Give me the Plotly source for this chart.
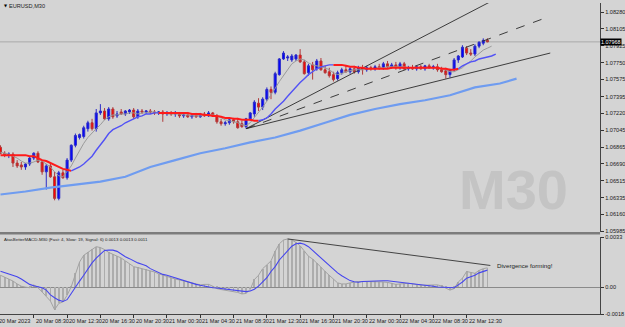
import plotly.graph_objects as go

# ----------------------------- data -----------------------------
opens = [1.06864, 1.06802, 1.06782, 1.06792, 1.06699, 1.06679, 1.06658, 1.06689, 1.06751, 1.06802,
         1.06710, 1.06607, 1.06669, 1.06555, 1.06329, 1.06597, 1.06545, 1.06730, 1.06885, 1.06967,
         1.06977, 1.07059, 1.07121, 1.07059, 1.07224, 1.07244, 1.07162, 1.07265, 1.07193, 1.07234,
         1.07213, 1.07234, 1.07254, 1.07183, 1.07244, 1.07234, 1.07244, 1.07234, 1.07224, 1.07234,
         1.07213, 1.07224, 1.07213, 1.07224, 1.07193, 1.07203, 1.07183, 1.07203, 1.07183, 1.07213,
         1.07193, 1.07224, 1.07193, 1.07131, 1.07111, 1.07121, 1.07152, 1.07131, 1.07111, 1.07080,
         1.07162, 1.07213, 1.07326, 1.07285, 1.07368, 1.07470, 1.07440, 1.07625, 1.07789, 1.07799,
         1.07779, 1.07789, 1.07830, 1.07758, 1.07645, 1.07727, 1.07686, 1.07768, 1.07676, 1.07655,
         1.07625, 1.07583, 1.07645, 1.07676, 1.07655, 1.07686, 1.07655, 1.07697, 1.07676, 1.07697,
         1.07686, 1.07707, 1.07697, 1.07738, 1.07707, 1.07727, 1.07697, 1.07738, 1.07686, 1.07697,
         1.07686, 1.07707, 1.07686, 1.07717, 1.07697, 1.07707, 1.07676, 1.07666, 1.07625, 1.07676,
         1.07779, 1.07810, 1.07902, 1.07851, 1.07840, 1.07923, 1.07954, 1.07984]
highs = [1.06885, 1.06823, 1.06812, 1.06812, 1.06730, 1.06710, 1.06699, 1.06761, 1.06812, 1.06823,
         1.06730, 1.06689, 1.06710, 1.06607, 1.06617, 1.06628, 1.06751, 1.06895, 1.07008, 1.07008,
         1.07090, 1.07142, 1.07162, 1.07265, 1.07316, 1.07275, 1.07285, 1.07285, 1.07244, 1.07265,
         1.07254, 1.07265, 1.07275, 1.07265, 1.07265, 1.07254, 1.07265, 1.07254, 1.07244, 1.07254,
         1.07244, 1.07244, 1.07244, 1.07234, 1.07224, 1.07234, 1.07213, 1.07224, 1.07224, 1.07234,
         1.07244, 1.07234, 1.07213, 1.07162, 1.07142, 1.07162, 1.07172, 1.07172, 1.07142, 1.07172,
         1.07234, 1.07357, 1.07378, 1.07388, 1.07491, 1.07501, 1.07655, 1.07799, 1.07871, 1.07830,
         1.07840, 1.07840, 1.07892, 1.07779, 1.07738, 1.07758, 1.07789, 1.07799, 1.07717, 1.07697,
         1.07655, 1.07666, 1.07697, 1.07717, 1.07707, 1.07717, 1.07717, 1.07727, 1.07717, 1.07717,
         1.07727, 1.07738, 1.07758, 1.07768, 1.07748, 1.07758, 1.07758, 1.07758, 1.07717, 1.07727,
         1.07717, 1.07727, 1.07727, 1.07738, 1.07727, 1.07738, 1.07707, 1.07697, 1.07686, 1.07799,
         1.07830, 1.07933, 1.07923, 1.07892, 1.07943, 1.07974, 1.08005, 1.08005]
lows = [1.06792, 1.06761, 1.06751, 1.06658, 1.06648, 1.06628, 1.06628, 1.06669, 1.06730, 1.06699,
        1.06576, 1.06422, 1.06545, 1.06309, 1.06309, 1.06535, 1.06525, 1.06710, 1.06864, 1.06946,
        1.06956, 1.07028, 1.07039, 1.07028, 1.07203, 1.07152, 1.07142, 1.07162, 1.07172, 1.07203,
        1.07193, 1.07213, 1.07162, 1.07162, 1.07213, 1.07213, 1.07213, 1.07203, 1.07203, 1.07131,
        1.07193, 1.07193, 1.07183, 1.07172, 1.07172, 1.07172, 1.07162, 1.07172, 1.07172, 1.07183,
        1.07183, 1.07183, 1.07111, 1.07090, 1.07090, 1.07100, 1.07111, 1.07059, 1.07069, 1.07059,
        1.07142, 1.07183, 1.07244, 1.07254, 1.07347, 1.07368, 1.07419, 1.07614, 1.07779, 1.07768,
        1.07758, 1.07768, 1.07748, 1.07625, 1.07614, 1.07573, 1.07666, 1.07666, 1.07635, 1.07594,
        1.07553, 1.07563, 1.07625, 1.07645, 1.07635, 1.07635, 1.07635, 1.07625, 1.07655, 1.07666,
        1.07666, 1.07676, 1.07676, 1.07697, 1.07686, 1.07676, 1.07676, 1.07676, 1.07666, 1.07676,
        1.07666, 1.07676, 1.07666, 1.07686, 1.07676, 1.07655, 1.07645, 1.07583, 1.07594, 1.07655,
        1.07748, 1.07799, 1.07830, 1.07820, 1.07820, 1.07902, 1.07933, 1.07964]
closes = [1.06802, 1.06782, 1.06792, 1.06699, 1.06669, 1.06658, 1.06689, 1.06751, 1.06802, 1.06710,
          1.06607, 1.06669, 1.06555, 1.06329, 1.06597, 1.06545, 1.06730, 1.06885, 1.06987, 1.06997,
          1.07069, 1.07121, 1.07059, 1.07224, 1.07244, 1.07162, 1.07265, 1.07183, 1.07213, 1.07213,
          1.07244, 1.07254, 1.07183, 1.07244, 1.07234, 1.07244, 1.07234, 1.07224, 1.07234, 1.07213,
          1.07224, 1.07213, 1.07224, 1.07193, 1.07203, 1.07183, 1.07203, 1.07183, 1.07213, 1.07193,
          1.07224, 1.07193, 1.07131, 1.07111, 1.07121, 1.07152, 1.07131, 1.07069, 1.07080, 1.07162,
          1.07224, 1.07337, 1.07285, 1.07368, 1.07470, 1.07440, 1.07635, 1.07789, 1.07851, 1.07810,
          1.07820, 1.07830, 1.07758, 1.07635, 1.07717, 1.07676, 1.07768, 1.07676, 1.07645, 1.07614,
          1.07573, 1.07645, 1.07676, 1.07655, 1.07686, 1.07655, 1.07697, 1.07676, 1.07697, 1.07686,
          1.07707, 1.07697, 1.07738, 1.07707, 1.07727, 1.07697, 1.07738, 1.07686, 1.07697, 1.07686,
          1.07707, 1.07686, 1.07717, 1.07697, 1.07707, 1.07676, 1.07655, 1.07625, 1.07676, 1.07779,
          1.07820, 1.07912, 1.07851, 1.07840, 1.07923, 1.07964, 1.07984, 1.07968]

# fast MA (thin grey), drawn with a 1-bar shift
ma_fast = [1.06812, 1.06802, 1.06792, 1.06771, 1.06751, 1.06720, 1.06699, 1.06699, 1.06710, 1.06730,
           1.06720, 1.06689, 1.06658, 1.06607, 1.06566, 1.06555, 1.06607, 1.06669, 1.06751, 1.06833,
           1.06905, 1.06967, 1.07018, 1.07059, 1.07100, 1.07152, 1.07183, 1.07203, 1.07203, 1.07213,
           1.07213, 1.07224, 1.07224, 1.07213, 1.07224, 1.07224, 1.07234, 1.07234, 1.07224, 1.07224,
           1.07213, 1.07213, 1.07213, 1.07213, 1.07203, 1.07203, 1.07193, 1.07193, 1.07193, 1.07203,
           1.07203, 1.07203, 1.07193, 1.07172, 1.07152, 1.07142, 1.07131, 1.07121, 1.07100, 1.07090,
           1.07121, 1.07172, 1.07234, 1.07285, 1.07347, 1.07409, 1.07481, 1.07553, 1.07614, 1.07686,
           1.07738, 1.07768, 1.07789, 1.07779, 1.07748, 1.07727, 1.07717, 1.07707, 1.07697, 1.07676,
           1.07645, 1.07625, 1.07635, 1.07655, 1.07666, 1.07676, 1.07676, 1.07676, 1.07686, 1.07686,
           1.07686, 1.07697, 1.07697, 1.07707, 1.07707, 1.07707, 1.07707, 1.07707, 1.07697, 1.07697,
           1.07697, 1.07697, 1.07697, 1.07697, 1.07697, 1.07697, 1.07686, 1.07676, 1.07655, 1.07655,
           1.07676, 1.07697, 1.07738, 1.07768, 1.07810, 1.07851, 1.07882, 1.07902, 1.07923]

# mid MA (red when falling, blue when rising), drawn with a 2-bar shift
ma_mid = [1.06782, 1.06782, 1.06782, 1.06782, 1.06782, 1.06782, 1.06782, 1.06771, 1.06771, 1.06751,
          1.06730, 1.06720, 1.06699, 1.06679, 1.06658, 1.06638, 1.06628, 1.06617, 1.06638, 1.06658,
          1.06689, 1.06730, 1.06771, 1.06833, 1.06885, 1.06946, 1.07008, 1.07049, 1.07069, 1.07090,
          1.07121, 1.07142, 1.07162, 1.07183, 1.07193, 1.07213, 1.07213, 1.07224, 1.07224, 1.07224,
          1.07224, 1.07224, 1.07224, 1.07224, 1.07224, 1.07224, 1.07213, 1.07213, 1.07213, 1.07203,
          1.07203, 1.07193, 1.07193, 1.07183, 1.07172, 1.07172, 1.07162, 1.07162, 1.07152, 1.07152,
          1.07152, 1.07142, 1.07142, 1.07152, 1.07172, 1.07213, 1.07265, 1.07306, 1.07347, 1.07399,
          1.07450, 1.07491, 1.07542, 1.07583, 1.07625, 1.07655, 1.07686, 1.07707, 1.07717, 1.07727,
          1.07727, 1.07727, 1.07727, 1.07717, 1.07707, 1.07707, 1.07697, 1.07697, 1.07686, 1.07686,
          1.07686, 1.07686, 1.07686, 1.07686, 1.07697, 1.07697, 1.07697, 1.07697, 1.07697, 1.07697,
          1.07697, 1.07697, 1.07697, 1.07697, 1.07697, 1.07697, 1.07686, 1.07686, 1.07676, 1.07676,
          1.07686, 1.07717, 1.07738, 1.07758, 1.07768, 1.07789, 1.07799, 1.07810, 1.07820, 1.07840]
mid_seg_start = [0, 17, 38, 62, 80, 110]
mid_seg_end = [17, 38, 62, 80, 110, 119]
mid_seg_dir = ["down", "up", "down", "up", "down", "up"]

# slow MA (light blue), shifted forward
ma_slow_x = [0, 6, 12, 18, 24, 30, 36, 42, 48, 54, 60, 66, 72, 78, 84, 90, 96, 102, 108, 114, 120, 124]
ma_slow = [1.06370, 1.06401, 1.06442, 1.06473, 1.06504, 1.06555, 1.06658, 1.06730, 1.06802, 1.06854,
           1.06915, 1.06967, 1.07039, 1.07121, 1.07203, 1.07265, 1.07316, 1.07357, 1.07409, 1.07491,
           1.07532, 1.07583]

macd_main = [0.00078, 0.00066, 0.00053, 0.00040, 0.00021, 0.00006, 0.0, -0.00004, 0.00015, -0.00004,
             -0.00032, -0.00060, -0.00092, -0.00149, -0.00108, -0.00098, -0.00054, 0.00003, 0.00091, 0.00166,
             0.00210, 0.00229, 0.00248, 0.00267, 0.00261, 0.00248, 0.00229, 0.00217, 0.00204, 0.00192,
             0.00173, 0.00154, 0.00135, 0.00129, 0.00122, 0.00116, 0.00106, 0.00100, 0.00088, 0.00078,
             0.00072, 0.00062, 0.00053, 0.00047, 0.00040, 0.00034, 0.00028, 0.00021, 0.00015, 0.00018,
             0.00018, 0.00006, -0.00010, -0.00016, -0.00020, -0.00023, -0.00029, -0.00035, -0.00045, -0.00042,
             -0.00016, 0.00050, 0.00078, 0.00122, 0.00147, 0.00173, 0.00236, 0.00286, 0.00311, 0.00318,
             0.00311, 0.00295, 0.00273, 0.00236, 0.00204, 0.00185, 0.00160, 0.00132, 0.00103, 0.00078,
             0.00053, 0.00028, 0.00021, 0.00021, 0.00028, 0.00034, 0.00037, 0.00037, 0.00037, 0.00037,
             0.00037, 0.00034, 0.00034, 0.00031, 0.00025, 0.00018, 0.00021, 0.00025, 0.00025, 0.00021,
             0.00015, 0.00013, 0.00013, 0.00013, 0.00015, 0.00015, 0.00007, -0.00007, -0.00020, -0.00010,
             0.00034, 0.00059, 0.00103, 0.00097, 0.00091, 0.00110, 0.00122, 0.00127]
macd_signal = [0.00105, 0.00097, 0.00088, 0.00081, 0.00069, 0.00053, 0.00034, 0.00018, 0.00009, 0.0,
               -0.00004, -0.00020, -0.00051, -0.00070, -0.00086, -0.00095, -0.00083, -0.00042, 0.00003, 0.00040,
               0.00078, 0.00122, 0.00160, 0.00192, 0.00220, 0.00242, 0.00244, 0.00244, 0.00236, 0.00217,
               0.00201, 0.00188, 0.00173, 0.00160, 0.00151, 0.00141, 0.00122, 0.00110, 0.00097, 0.00084,
               0.00078, 0.00069, 0.00059, 0.00050, 0.00043, 0.00037, 0.00028, 0.00018, 0.00012, 0.00006,
               0.00003, -0.00004, -0.00006, -0.00010, -0.00013, -0.00016, -0.00020, -0.00023, -0.00026, -0.00030,
               -0.00026, -0.00014, 0.00006, 0.00034, 0.00062, 0.00103, 0.00135, 0.00179, 0.00210, 0.00242,
               0.00270, 0.00286, 0.00290, 0.00283, 0.00267, 0.00242, 0.00217, 0.00192, 0.00166, 0.00138,
               0.00116, 0.00094, 0.00075, 0.00056, 0.00043, 0.00035, 0.00032, 0.00037, 0.00039, 0.00040,
               0.00042, 0.00042, 0.00042, 0.00042, 0.00039, 0.00034, 0.00030, 0.00028, 0.00028, 0.00025,
               0.00020, 0.00018, 0.00014, 0.00009, 0.00006, 0.00001, -0.00001, -0.00004, -0.00004, -0.00004,
               0.00015, 0.00034, 0.00059, 0.00067, 0.00078, 0.00094, 0.00103, 0.00112]

# hand-drawn trend lines (bar index, value)
fan_x0 = [59, 59, 59]
fan_y0 = [1.07059, 1.07059, 1.07059]
fan_x1 = [118.0, 130.4, 132.1]
fan_y1 = [1.08395, 1.08210, 1.07851]
fan_dash = ["solid", "dash", "solid"]
macd_tl_x = [69, 117.7]
macd_tl_y = [0.00318, 0.00143]

price_ticks = [1.08280, 1.08105, 1.07925, 1.07750, 1.07575, 1.07395, 1.07220, 1.07045,
               1.06865, 1.06690, 1.06515, 1.06335, 1.06160, 1.05985]
macd_ticks = [0.0033, 0.0, -0.0018]
macd_tick_text = ["0.0033", "0.00", "-0.0018"]
time_tick_bars = [8, 16, 24, 32, 40, 48, 56, 64, 72, 80, 88, 96, 104, 112]
time_label_bars = [0, 8, 16, 24, 32, 40, 48, 56, 64, 72, 80, 88, 96, 104, 112]
time_labels = ["20 Mar 2023", "20 Mar 08:30", "20 Mar 12:30", "20 Mar 16:30", "20 Mar 20:30",
               "21 Mar 00:30", "21 Mar 04:30", "21 Mar 08:30", "21 Mar 12:30", "21 Mar 16:30",
               "21 Mar 20:30", "22 Mar 00:30", "22 Mar 04:30", "22 Mar 08:30", "22 Mar 12:30"]

# ----------------------------- figure -----------------------------
BG = "#d4d4d4"
FONT = "Liberation Sans"
W, H = 625, 327
X_DOM = 602 / W

bars = list(range(len(closes)))
fig = go.Figure()

fig.add_trace(go.Scatter(x=ma_slow_x, y=ma_slow, mode="lines", yaxis="y", xaxis="x",
                         line=dict(color="#6f9cf0", width=2.2), hoverinfo="skip"))

for x0, y0, x1, y1, d in zip(fan_x0, fan_y0, fan_x1, fan_y1, fan_dash):
    fig.add_trace(go.Scatter(x=[x0, x1], y=[y0, y1], mode="lines", yaxis="y", xaxis="x",
                             line=dict(color="#2a2a2a", width=0.9, dash=d), hoverinfo="skip"))

fig.add_trace(go.Candlestick(x=bars, open=opens, high=highs, low=lows, close=closes,
                             xaxis="x", yaxis="y", whiskerwidth=0,
                             increasing=dict(line=dict(color="#2b2bc8", width=1), fillcolor="#0000ff"),
                             decreasing=dict(line=dict(color="#b03a3a", width=1), fillcolor="#ff0000"),
                             hoverinfo="skip"))

fig.add_trace(go.Scatter(x=list(range(len(ma_fast))), y=ma_fast, mode="lines", yaxis="y", xaxis="x",
                         line=dict(color="#9a9a9a", width=1), hoverinfo="skip"))

for s, e, d in zip(mid_seg_start, mid_seg_end, mid_seg_dir):
    col = "#ff1a1a" if d == "down" else "#5252f5"
    wid = 2.0 if d == "down" else 1.4
    fig.add_trace(go.Scatter(x=list(range(s, e + 1)), y=ma_mid[s:e + 1], mode="lines",
                             yaxis="y", xaxis="x", line=dict(color=col, width=wid), hoverinfo="skip"))

# MACD panel
fig.add_trace(go.Bar(x=bars, y=macd_main, yaxis="y2", xaxis="x", width=0.2,
                     marker=dict(color="#acacac", line=dict(width=0)), hoverinfo="skip"))
fig.add_trace(go.Scatter(x=bars, y=macd_main, mode="lines", yaxis="y2", xaxis="x",
                         line=dict(color="#a2a2a2", width=1), hoverinfo="skip"))
fig.add_trace(go.Scatter(x=bars, y=macd_signal, mode="lines", yaxis="y2", xaxis="x",
                         line=dict(color="#4545ee", width=1.1), hoverinfo="skip"))
fig.add_trace(go.Scatter(x=macd_tl_x, y=macd_tl_y, mode="lines", yaxis="y2", xaxis="x",
                         line=dict(color="#333333", width=0.9), hoverinfo="skip"))

axis_font = dict(family=FONT, size=5.6, color="#1a1a1a")
fig.update_layout(
    width=W, height=H, margin=dict(l=0, r=0, t=0, b=0),
    paper_bgcolor=BG, plot_bgcolor=BG, showlegend=False, bargap=0,
    xaxis=dict(domain=[0, X_DOM], range=[-0.12, 144.07], anchor="y2",
               showgrid=False, zeroline=False, tickvals=time_tick_bars, ticks="outside",
               ticklen=3, tickcolor="#333333", showticklabels=False,
               showline=True, linecolor="#444444", linewidth=1,
               rangeslider=dict(visible=False), fixedrange=True),
    yaxis=dict(domain=[94 / H, 1], range=[1.05980, 1.08375], side="right", anchor="x",
               tickvals=price_ticks, ticktext=[f"{v:.5f}" for v in price_ticks],
               ticks="outside", ticklen=3, tickcolor="#333333", tickfont=axis_font,
               showgrid=False, zeroline=False, showline=True, linecolor="#444444", linewidth=1),
    yaxis2=dict(domain=[9.8 / H, 88.5 / H], range=[-0.0018, 0.0033], side="right", anchor="x",
                tickvals=macd_ticks, ticktext=macd_tick_text, ticks="outside", ticklen=3,
                tickcolor="#333333", tickfont=axis_font, showgrid=False,
                zeroline=True, zerolinecolor="#8a8a8a", zerolinewidth=1,
                showline=True, linecolor="#444444", linewidth=1),
)

shapes = [
    dict(type="line", xref="paper", yref="y", x0=0, x1=X_DOM, y0=closes[-1], y1=closes[-1],
         line=dict(color="#a9a9a9", width=1), layer="below"),
    dict(type="line", xref="paper", yref="paper", x0=0, x1=X_DOM, y0=(H - 234.5) / H, y1=(H - 234.5) / H,
         line=dict(color="#7c7c7c", width=2.5)),
]
fig.update_layout(shapes=shapes)

ann = []
ann.append(dict(text="M30", xref="paper", yref="paper", x=515 / W, y=(H - 190) / H,
                xanchor="center", yanchor="middle", showarrow=False,
                font=dict(family=FONT, size=56, color="#c4c4c4", weight="bold")))
ann.append(dict(text="▼", xref="paper", yref="paper", x=2 / W, y=1 - 3 / H, xanchor="left",
                yanchor="middle", showarrow=False, font=dict(family="DejaVu Sans", size=4, color="#000")))
ann.append(dict(text="EURUSD,M30", xref="paper", yref="paper", x=7 / W, y=1 - 3 / H, xanchor="left",
                yanchor="middle", showarrow=False, font=dict(family=FONT, size=5.6, color="#222")))
ann.append(dict(text="AtasBetterMACD-M30 (Fast: 4, Slow: 19, Signal: 6) 0.0013 0.0013 0.0011",
                xref="paper", yref="paper", x=2.5 / W, y=(H - 240.7) / H, xanchor="left",
                yanchor="middle", showarrow=False, font=dict(family=FONT, size=4.4, color="#222")))
ann.append(dict(text="Divergence forming!", xref="x", yref="y2", x=macd_tl_x[1], y=macd_tl_y[1],
                xanchor="left", yanchor="middle", xshift=5, showarrow=False,
                font=dict(family=FONT, size=6.2, color="#222")))
ann.append(dict(text=f"{closes[-1]:.5f}", xref="paper", yref="y", x=X_DOM, y=closes[-1],
                xanchor="left", yanchor="middle", showarrow=False, bgcolor="#000000",
                borderpad=0, font=dict(family=FONT, size=5.4, color="#ffffff")))
for i, (bx, lab) in enumerate(zip(time_label_bars, time_labels)):
    ann.append(dict(text=lab, xref="x", yref="paper", x=bx, y=(H - 319) / H, xanchor="left",
                    yanchor="top", xshift=(-4 if i == 0 else 0), showarrow=False,
                    font=dict(family=FONT, size=5.6, color="#1a1a1a")))
fig.update_layout(annotations=ann)

fig.write_html("out.html")
